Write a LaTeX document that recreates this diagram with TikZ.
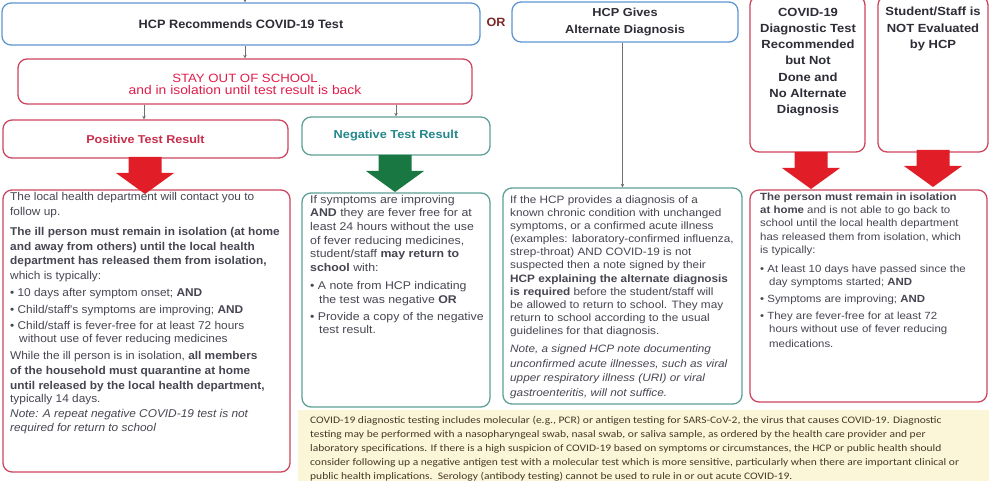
\documentclass[tikz,border=0pt]{standalone}
\usepackage{fontspec}
\setmainfont{Liberation Sans}
\newfontfamily\sA{Liberation Sans}[FakeStretch=1.05]
\newfontfamily\sB{Liberation Sans}[FakeStretch=1.10]
\newfontfamily\noteA{Carlito}[FakeStretch=1.15]
\usetikzlibrary{arrows.meta}

\definecolor{bluebd}{RGB}{95,150,210}
\definecolor{redbd}{RGB}{205,70,95}
\definecolor{tealbd}{RGB}{95,160,150}
\definecolor{crimson}{RGB}{225,30,75}
\definecolor{postext}{RGB}{200,45,75}
\definecolor{tealtext}{RGB}{35,135,140}
\definecolor{redarrow}{RGB}{225,30,40}
\definecolor{greenarrow}{RGB}{25,120,65}
\definecolor{notefill}{RGB}{252,246,216}
\definecolor{bodytext}{RGB}{70,70,82}
\definecolor{darktext}{RGB}{45,45,55}
\definecolor{ortext}{RGB}{125,40,40}
\definecolor{notetext}{RGB}{70,55,40}
\definecolor{linegray}{RGB}{110,110,115}

\tikzset{
  boxbase/.style={line width=1.3pt, rounded corners=9pt, inner sep=0pt},
  bluebox/.style={boxbase, draw=bluebd},
  redbox/.style={boxbase, draw=redbd},
  tealbox/.style={boxbase, draw=tealbd},
  txt/.style={inner sep=0pt, align=left, anchor=north west, text=bodytext},
  ctxt/.style={inner sep=0pt, align=center},
  conn/.style={draw=linegray, line width=0.8pt, -{Stealth[length=3.5pt,width=3.5pt]}},
  blockarrow/.pic={
    \fill[pic actions] (-16.5,0) -- (16.5,0) -- (16.5,16) -- (29,16)
      -- (0,37) -- (-29,16) -- (-16.5,16) -- cycle;
  }
}

\begin{document}
\begin{tikzpicture}[x=1pt,y=-1pt]
\useasboundingbox (0,0) rectangle (989,481);
\clip (0,0) rectangle (989,481);
\fill[white] (0,0) rectangle (989,481);

% ---- header row ----
\node[bluebox, minimum width=478pt, minimum height=42pt,
      font=\sA\bfseries\fontsize{12.1}{14}\selectfont, text=darktext]
  (hcp) at (241,24) {HCP Recommends COVID-19 Test};
\node[ctxt, font=\sA\bfseries\fontsize{12}{14}\selectfont, text=ortext]
  (or) at (496,22) {OR};
\node[bluebox, minimum width=226pt, minimum height=40pt,
      font=\sB\bfseries\fontsize{11.6}{16.5}\selectfont, text=darktext, align=center]
  (gives) at (625,22) {HCP Gives\\Alternate Diagnosis};
\node[redbox, minimum width=115pt, minimum height=156pt] (covid) at (807.5,74) {};
\node[ctxt, font=\sB\bfseries\fontsize{11.8}{16.2}\selectfont, text=darktext]
  (covidtxt) at (808,62) {COVID-19\\Diagnostic Test\\Recommended\\but Not\\Done and\\No Alternate\\Diagnosis};
\node[redbox, minimum width=110pt, minimum height=156pt] (student) at (933,74) {};
\node[ctxt, font=\sB\bfseries\fontsize{11.8}{16.2}\selectfont, text=darktext]
  (studenttxt) at (933,29) {Student/Staff is\\NOT Evaluated\\by HCP};

% ---- stay out of school ----
\node[redbox, minimum width=454pt, minimum height=45pt] (stay) at (245,81.5) {};
\node[ctxt, text=crimson, font=\sB] (staytxt) at (245,84)
  {{\fontsize{12}{16}\selectfont STAY OUT OF SCHOOL}\\
   {\fontsize{12.6}{16}\selectfont and in isolation until test result is back}};

% ---- test results ----
\node[redbox, minimum width=285pt, minimum height=38pt,
      font=\sB\bfseries\fontsize{11.4}{12}\selectfont, text=postext]
  (pos) at (145.5,139) {Positive Test Result};
\node[tealbox, minimum width=188pt, minimum height=38pt,
      font=\sB\bfseries\fontsize{11.6}{12}\selectfont, text=tealtext]
  (neg) at (396,136) {Negative Test Result};

% ---- detail boxes ----
\node[redbox, minimum width=287pt, minimum height=282pt] (posbox) at (146.5,331) {};
\node[tealbox, minimum width=188pt, minimum height=214pt] (negbox) at (396,300) {};
\node[tealbox, minimum width=239pt, minimum height=216pt] (altbox) at (622.5,296) {};
\node[redbox, minimum width=237pt, minimum height=212pt] (rightbox) at (868.5,296) {};

% ---- block arrows ----
\pic[fill=redarrow] at (145,157) {blockarrow};
\pic[fill=greenarrow] at (395,155) {blockarrow};
\pic[fill=redarrow] at (811,152) {blockarrow};
\pic[fill=redarrow] at (933,150) {blockarrow};

% ---- connectors ----
\coordinate (topin) at (245,0);
\draw[conn] (topin) -- (hcp.north -| topin);
\draw[conn] (hcp.south -| stay.north) -- (stay.north);
\draw[conn] (stay.south -| 144,0) -- (pos.north -| 144,0);
\draw[conn] (stay.south -| neg.north) -- (neg.north);
\draw[conn] (gives.south -| altbox.north) -- (altbox.north);

% ---- positive result text ----
\node[txt, font=\sA\fontsize{11.3}{14.9}\selectfont] (postxt) at (10,192) {%
The local health department will contact you to\\
follow up.\\[5pt]
\textbf{The ill person must remain in isolation (at home}\\
\textbf{and away from others) until the local health}\\
\textbf{department has released them from isolation,}\\
which is typically:\\[2pt]
\textbullet\ 10 days after symptom onset; \textbf{AND}\\[1.5pt]
\textbullet\ Child/staff's symptoms are improving; \textbf{AND}\\[1.5pt]
\textbullet\ Child/staff is fever-free for at least 72 hours\\[-1.5pt]
\hspace*{9pt}without use of fever reducing medicines\\[1.5pt]
While the ill person is in isolation, \textbf{all members}\\
\textbf{of the household must quarantine at home}\\
\textbf{until released by the local health department,}\\[-1.5pt]
typically 14 days.\\[0.5pt]
\textit{Note: A repeat negative COVID-19 test is not}\\[-1.5pt]
\textit{required for return to school}};

% ---- negative result text ----
\node[txt, font=\sB\fontsize{11.2}{13.6}\selectfont] (negtxt) at (310,195) {%
If symptoms are improving\\
\textbf{AND} they are fever free for at\\
least 24 hours without the use\\
of fever reducing medicines,\\
student/staff \textbf{may return to}\\
\textbf{school} with:\\[4.5pt]
\textbullet\ A note from HCP indicating\\
\hspace*{9pt}the test was negative \textbf{OR}\\[3.5pt]
\textbullet\ Provide a copy of the negative\\
\hspace*{9pt}test result.};

% ---- alternate diagnosis text ----
\node[txt, font=\sB\fontsize{10.7}{13.1}\selectfont] (alttxt) at (510,195.5) {%
If the HCP provides a diagnosis of a\\
known chronic condition with unchanged\\
symptoms, or a confirmed acute illness\\
(examples: laboratory-confirmed influenza,\\
strep-throat) AND COVID-19 is not\\
suspected then a note signed by their\\
\textbf{HCP explaining the alternate diagnosis}\\
\textbf{is required} before the student/staff will\\
be allowed to return to school. They may\\
return to school according to the usual\\
guidelines for that diagnosis.\\[5pt]
\textit{Note, a signed HCP note documenting}\\[1.5pt]
\textit{unconfirmed acute illnesses, such as viral}\\[1.5pt]
\textit{upper respiratory illness (URI) or viral}\\[1.5pt]
\textit{gastroenteritis, will not suffice.}};

% ---- not tested / not evaluated text ----
\node[txt, font=\sB\fontsize{10.4}{13.3}\selectfont] (righttxt) at (760,192.5) {%
\textbf{The person must remain in isolation}\\
\textbf{at home} and is not able to go back to\\
school until the local health department\\
has released them from isolation, which\\
is typically:\\[6pt]
\textbullet\ At least 10 days have passed since the\\[-1pt]
\hspace*{9pt}day symptoms started; \textbf{AND}\\[4pt]
\textbullet\ Symptoms are improving; \textbf{AND}\\[4pt]
\textbullet\ They are fever-free for at least 72\\
\hspace*{9pt}hours without use of fever reducing\\[1.5pt]
\hspace*{9pt}medications.};

% ---- testing note ----
\node[fill=notefill, minimum width=697pt, minimum height=85pt, inner sep=0pt]
  (note) at (646.5,452.5) {};
\node[txt, text=notetext, font=\noteA\fontsize{10}{14.2}\selectfont] (notetxt) at (310,415.5) {%
COVID-19 diagnostic testing includes molecular (e.g., PCR) or antigen testing for SARS-CoV-2, the virus that causes COVID-19. Diagnostic\\
testing may be performed with a nasopharyngeal swab, nasal swab, or saliva sample, as ordered by the health care provider and per\\
laboratory specifications. If there is a high suspicion of COVID-19 based on symptoms or circumstances, the HCP or public health should\\
consider following up a negative antigen test with a molecular test which is more sensitive, particularly when there are important clinical or\\
public health implications.\ \ Serology (antibody testing) cannot be used to rule in or out acute COVID-19.};

\end{tikzpicture}
\end{document}
